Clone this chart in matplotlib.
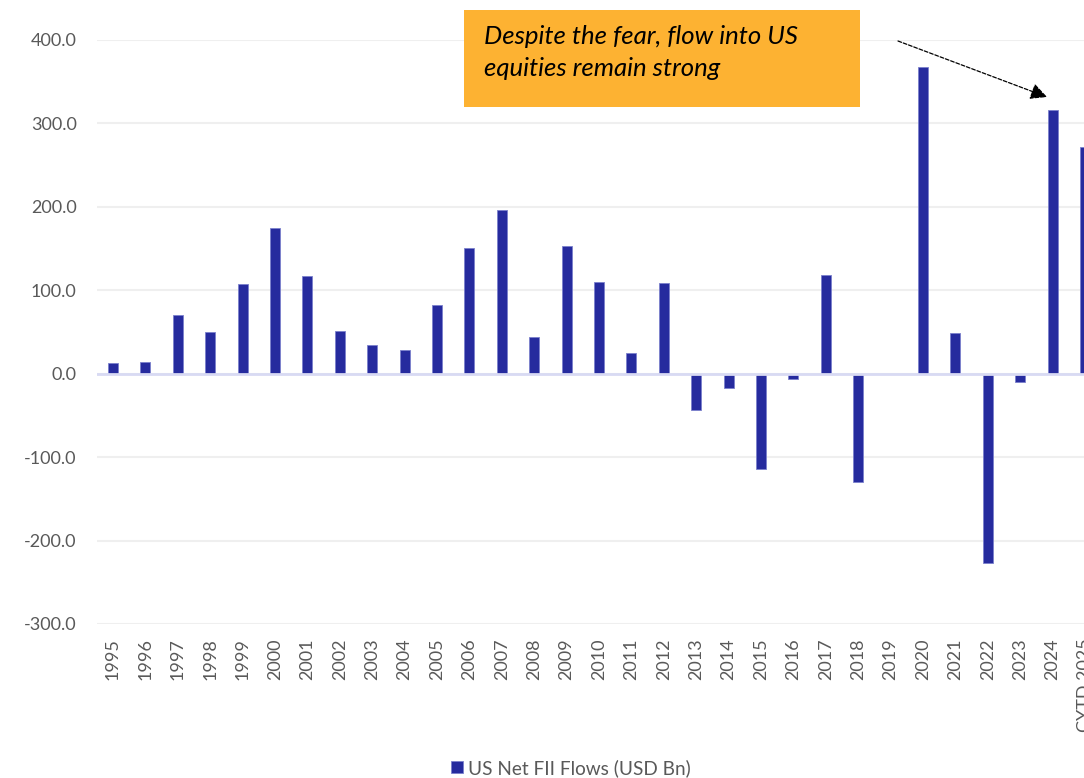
import matplotlib
matplotlib.use('Agg')
import matplotlib.pyplot as plt
from matplotlib.patches import Rectangle

# US net FII flows, USD bn
years = ['1995', '1996', '1997', '1998', '1999', '2000', '2001', '2002', '2003', '2004',
         '2005', '2006', '2007', '2008', '2009', '2010', '2011', '2012', '2013', '2014',
         '2015', '2016', '2017', '2018', '2019', '2020', '2021', '2022', '2023', '2024',
         'CYTD 2025']
flows = [12.8, 13.5, 70.0, 50.0, 108.0, 175.0, 117.0, 50.7, 35.0, 29.0,
         82.6, 150.5, 196.0, 44.0, 152.5, 109.6, 24.3, 108.7, -43.0, -16.8,
         -114.0, -6.5, 118.6, -130.0, 0.0, 368.0, 48.5, -227.0, -10.4, 316.0,
         272.0]
yticks = [-300, -200, -100, 0, 100, 200, 300, 400]

plt.rcParams['font.family'] = ['Lato', 'DejaVu Sans']

W, H = 1084, 778
fig = plt.figure(figsize=(W / 100, H / 100), dpi=100)
ax = fig.add_axes([96.8 / W, 1 - 624 / H, (1101.2 - 96.8) / W, (624 - 40) / H])

x = list(range(len(years)))
bars = ax.bar(x, flows, width=0.31, color='#262B9E', edgecolor='#7B80CC',
              linewidth=0.6, zorder=3)

ax.set_xlim(-0.5, len(years) - 0.5)
ax.set_ylim(-300, 400)
ax.set_yticks(yticks)
ax.set_yticklabels(['%.1f' % v for v in yticks])
ax.set_xticks(x)
ax.set_xticklabels(years, rotation=90, va='top')
ax.tick_params(axis='both', length=0, labelsize=13, colors='#595959')
ax.tick_params(axis='y', pad=14.5)
ax.tick_params(axis='x', pad=10.5)
for s in ax.spines.values():
    s.set_visible(False)
ax.grid(axis='y', color='#EFEFEF', linewidth=1.5, zorder=0)
ax.set_axisbelow(True)
ax.axhline(0, color='#D8DAF3', linewidth=2, zorder=4)

ax.legend([bars], ['US Net FII Flows (USD Bn)'], loc='center',
          bbox_to_anchor=(571 / W, 1 - 768 / H), bbox_transform=fig.transFigure,
          frameon=False, fontsize=13.7, handlelength=0.62, handleheight=0.62,
          handletextpad=0.3, labelcolor='#595959')

# callout box
fig.patches.append(Rectangle((464 / W, 1 - 107 / H), (860 - 464) / W, 97 / H,
                             transform=fig.transFigure, facecolor='#FDB232',
                             edgecolor='none', zorder=5))
fig.text(484 / W, 1 - 37 / H, 'Despite the fear, flow into US', style='italic',
         fontsize=18.5, color='black', va='center', ha='left', zorder=6)
fig.text(484 / W, 1 - 69 / H, 'equities remain strong', style='italic',
         fontsize=18.5, color='black', va='center', ha='left', zorder=6)

ax.annotate('', xy=(1047, H - 97), xycoords='figure pixels',
            xytext=(898, H - 41), textcoords='figure pixels',
            arrowprops=dict(arrowstyle='-|>', linestyle=(0, (3, 1.5)), color='black',
                            lw=0.9, mutation_scale=25, shrinkA=0, shrinkB=0))

fig.savefig('out.png', dpi=100)
